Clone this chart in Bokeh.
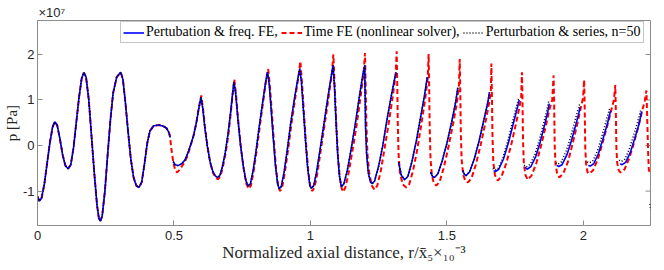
from bokeh.plotting import figure
from bokeh.models import Range1d, FixedTicker, Legend, LegendItem
from bokeh.embed import file_html
from bokeh.resources import INLINE

nan = float("nan")

# ---- data (pressure in units of 1e7 Pa) ----
# segment where all three solutions coincide
early_x = [0.000, 0.007, 0.015, 0.025, 0.035, 0.045, 0.055, 0.063, 0.072, 0.082, 0.092, 0.102,
           0.112, 0.122, 0.132, 0.142, 0.152, 0.162, 0.170, 0.178, 0.188, 0.198, 0.208, 0.218,
           0.225, 0.230, 0.237, 0.247, 0.257, 0.267, 0.277, 0.290, 0.305, 0.313, 0.322, 0.332,
           0.342, 0.352, 0.362, 0.372, 0.382, 0.392, 0.402, 0.412, 0.425, 0.443, 0.460, 0.473,
           0.482, 0.486]
early_p = [-1.12, -1.22, -1.15, -0.85, -0.40, 0.05, 0.40, 0.52, 0.45, 0.15, -0.20, -0.44,
           -0.51, -0.42, -0.05, 0.50, 1.05, 1.48, 1.60, 1.50, 1.00, 0.20, -0.60, -1.30,
           -1.60, -1.66, -1.55, -1.00, -0.20, 0.55, 1.15, 1.50, 1.61, 1.45, 0.95, 0.30,
           -0.30, -0.70, -0.88, -0.92, -0.80, -0.40, 0.05, 0.32, 0.43, 0.45, 0.43, 0.38,
           0.28, 0.18]

# perturbation & freq. FE / perturbation & series (coincident part)
mid_x = [nan,
         0.497, 0.504, 0.515, 0.528, 0.540, 0.552, 0.563, 0.573, 0.582, 0.590, 0.599, 0.606,
         0.613, 0.622, 0.632, 0.642, 0.652, 0.660, 0.668, 0.678, 0.688, 0.698, 0.708, 0.715,
         0.720, 0.726, 0.734, 0.744, 0.754, 0.764, 0.772, 0.780, 0.790, 0.800, 0.812, 0.825,
         0.836, 0.843, 0.849, 0.856, 0.864, 0.872, 0.880, 0.886, 0.893, 0.903, 0.915, 0.928,
         0.942, 0.955, 0.961, 0.967, 0.974, 0.982, 0.990, 0.998, 1.004, 1.012, 1.022, 1.035,
         1.050, 1.065, 1.077, 1.083, 1.088, 1.094, 1.100, 1.106, 1.113, 1.122, 1.135, 1.150,
         1.165, 1.180, 1.192, 1.199, 1.200, 1.202, 1.206, 1.212, 1.220, 1.226, 1.235, 1.250,
         1.265, 1.280, 1.295, 1.308, 1.314, nan,
         1.323, 1.333, 1.345, 1.357, 1.372, 1.388, 1.403, 1.418, 1.428, nan,
         1.440, 1.448, 1.455, 1.467, 1.482, 1.500, 1.517, 1.532, 1.540, nan,
         1.558, 1.564, 1.570, 1.583, 1.600, 1.618, 1.635, 1.650, 1.656]
mid_p = [nan,
         -0.35, -0.42, -0.44, -0.40, -0.32, -0.15, 0.05, 0.25, 0.50, 0.78, 1.06, 0.80,
         0.40, 0.00, -0.35, -0.56, -0.67, -0.70, -0.66, -0.45, -0.15, 0.25, 0.75, 1.15,
         1.40, 1.15, 0.60, 0.00, -0.45, -0.78, -0.89, -0.84, -0.55, -0.15, 0.40, 0.95,
         1.40, 1.61, 1.35, 0.80, 0.15, -0.45, -0.85, -0.95, -0.90, -0.60, -0.10, 0.50,
         1.05, 1.50, 1.69, 1.40, 0.80, 0.10, -0.50, -0.88, -0.94, -0.88, -0.60, -0.10,
         0.50, 1.10, 1.55, 1.76, 1.30, 0.50, -0.20, -0.65, -0.90, -0.85, -0.55, -0.05,
         0.50, 1.10, 1.55, 1.76, 1.20, 0.40, -0.20, -0.60, -0.80, -0.84, -0.78, -0.45,
         0.00, 0.55, 1.05, 1.45, 1.61, nan,
         -0.37, -0.65, -0.75, -0.68, -0.35, 0.10, 0.60, 1.10, 1.50, nan,
         -0.59, -0.68, -0.70, -0.62, -0.35, 0.05, 0.50, 0.95, 1.27, nan,
         -0.55, -0.63, -0.66, -0.58, -0.30, 0.10, 0.55, 0.95, 1.17]

blue_late_x = [nan, 1.671, 1.678, 1.690, 1.707, 1.725, 1.742, 1.757, 1.765,
               nan, 1.786, 1.795, 1.808, 1.825, 1.842, 1.858, 1.870, 1.875,
               nan, 1.903, 1.910, 1.922, 1.940, 1.957, 1.972, 1.983, 1.988,
               nan, 2.018, 2.025, 2.038, 2.055, 2.072, 2.088, 2.100,
               nan, 2.135, 2.142, 2.155, 2.172, 2.188, 2.203, 2.214]
blue_late_p = [nan, -0.55, -0.57, -0.52, -0.30, 0.05, 0.45, 0.80, 1.00,
               nan, -0.48, -0.52, -0.46, -0.25, 0.08, 0.45, 0.75, 0.92,
               nan, -0.44, -0.46, -0.42, -0.20, 0.12, 0.45, 0.70, 0.84,
               nan, -0.44, -0.45, -0.40, -0.18, 0.15, 0.48, 0.77,
               nan, -0.40, -0.42, -0.37, -0.15, 0.15, 0.45, 0.75]

black_late_x = [nan, 1.668, 1.676, 1.688, 1.705, 1.722, 1.739, 1.754, 1.763,
                nan, 1.783, 1.791, 1.805, 1.822, 1.839, 1.855, 1.867, 1.873,
                nan, 1.899, 1.907, 1.919, 1.936, 1.953, 1.968, 1.980, 1.986,
                nan, 2.014, 2.022, 2.035, 2.052, 2.068, 2.084, 2.097,
                nan, 2.131, 2.139, 2.152, 2.168, 2.184, 2.199, 2.211,
                nan, 2.244, 2.247]
black_late_p = [nan, -0.50, -0.54, -0.50, -0.27, 0.08, 0.48, 0.84, 1.04,
                nan, -0.43, -0.47, -0.41, -0.20, 0.13, 0.50, 0.80, 0.97,
                nan, -0.38, -0.41, -0.36, -0.14, 0.18, 0.52, 0.78, 0.90,
                nan, -0.36, -0.38, -0.33, -0.11, 0.21, 0.55, 0.83,
                nan, -0.32, -0.35, -0.30, -0.08, 0.22, 0.52, 0.80,
                nan, -1.28, -1.42]

# time FE (nonlinear solver), after the coincident segment
red_rest_x = [0.490, 0.497, 0.505, 0.512, 0.522, 0.535, 0.548, 0.560, 0.572, 0.582, 0.590, 0.600,
              0.607, 0.614, 0.623, 0.633, 0.643, 0.653, 0.661, 0.670, 0.680, 0.690, 0.700, 0.709,
              0.716, 0.721, 0.727, 0.735, 0.745, 0.755, 0.765, 0.774, 0.782, 0.792, 0.802, 0.814,
              0.827, 0.838, 0.845, 0.851, 0.858, 0.866, 0.874, 0.882, 0.889, 0.896, 0.906, 0.918,
              0.931, 0.945, 0.957, 0.963, 0.969, 0.976, 0.984, 0.992, 1.000, 1.007, 1.015, 1.025,
              1.038, 1.053, 1.068, 1.079, 1.084, 1.089, 1.095, 1.101, 1.108, 1.115, 1.120, 1.128,
              1.140, 1.155, 1.170, 1.184, 1.195, 1.200, 1.202, 1.205, 1.209, 1.216, 1.225, 1.235,
              1.245, 1.258, 1.272, 1.287, 1.301, 1.312, 1.316, 1.318, 1.320, 1.323, 1.328, 1.338,
              1.351, 1.362, 1.376, 1.391, 1.406, 1.420, 1.430, 1.433, 1.435, 1.437, 1.440, 1.445,
              1.452, 1.461, 1.473, 1.488, 1.505, 1.522, 1.537, 1.544, 1.547, 1.549, 1.551, 1.554,
              1.560, 1.568, 1.577, 1.590, 1.606, 1.624, 1.641, 1.656, 1.661, 1.663, 1.665, 1.667,
              1.670, 1.676, 1.686, 1.700, 1.717, 1.735, 1.752, 1.766, 1.772, 1.775, 1.777, 1.779,
              1.782, 1.788, 1.796, 1.810, 1.828, 1.846, 1.862, 1.876, 1.886, 1.891, 1.893, 1.895,
              1.898, 1.904, 1.912, 1.926, 1.944, 1.961, 1.977, 1.991, 1.999, 2.003, 2.005, 2.007,
              2.010, 2.015, 2.021, 2.035, 2.053, 2.070, 2.087, 2.102, 2.112, 2.117, 2.119, 2.121,
              2.124, 2.130, 2.137, 2.151, 2.168, 2.185, 2.201, 2.215, 2.225, 2.231, 2.234, 2.237,
              2.240, 2.246]
red_rest_p = [-0.05, -0.35, -0.55, -0.59, -0.52, -0.40, -0.25, -0.02, 0.22, 0.50, 0.80, 1.10,
              0.78, 0.38, -0.02, -0.38, -0.60, -0.71, -0.74, -0.68, -0.45, -0.14, 0.26, 0.76,
              1.18, 1.45, 1.15, 0.58, -0.02, -0.50, -0.84, -0.95, -0.88, -0.56, -0.15, 0.40,
              0.97, 1.45, 1.68, 1.35, 0.78, 0.12, -0.50, -0.90, -1.00, -0.93, -0.60, -0.10,
              0.50, 1.07, 1.55, 1.85, 1.40, 0.75, 0.05, -0.55, -0.93, -1.00, -0.92, -0.62,
              -0.10, 0.50, 1.12, 1.60, 2.00, 1.30, 0.45, -0.25, -0.72, -0.95, -1.02, -0.92,
              -0.60, -0.08, 0.48, 1.08, 1.60, 2.03, 1.40, 0.50, -0.20, -0.62, -0.88, -0.97,
              -0.88, -0.55, -0.05, 0.50, 1.05, 1.55, 2.07, 1.40, 0.50, -0.20, -0.60, -0.85,
              -0.92, -0.85, -0.55, -0.10, 0.45, 1.00, 1.50, 2.01, 1.30, 0.40, -0.30, -0.65,
              -0.82, -0.88, -0.80, -0.50, -0.05, 0.45, 0.95, 1.30, 1.90, 1.20, 0.30, -0.30,
              -0.65, -0.78, -0.81, -0.72, -0.42, 0.02, 0.50, 0.98, 1.20, 1.80, 1.10, 0.20,
              -0.35, -0.65, -0.77, -0.68, -0.40, 0.00, 0.45, 0.85, 1.05, 1.61, 1.00, 0.10,
              -0.40, -0.65, -0.75, -0.66, -0.38, 0.02, 0.42, 0.80, 1.00, 1.54, 0.90, 0.00,
              -0.40, -0.62, -0.70, -0.62, -0.35, 0.05, 0.45, 0.84, 1.05, 1.44, 0.80, -0.05,
              -0.40, -0.58, -0.62, -0.55, -0.30, 0.05, 0.42, 0.77, 1.00, 1.33, 0.75, -0.05,
              -0.38, -0.55, -0.59, -0.52, -0.28, 0.05, 0.40, 0.75, 0.98, 1.21, 0.60, -0.10,
              -0.55, -0.59]

blue_x = early_x + mid_x + blue_late_x
blue_p = early_p + mid_p + blue_late_p
black_x = early_x + mid_x + black_late_x
black_p = early_p + mid_p + black_late_p
red_x = early_x + red_rest_x
red_p = early_p + red_rest_p

x_ticks = [0, 0.5, 1, 1.5, 2]
x_tick_labels = ["0", "0.5", "1", "1.5", "2"]
y_ticks = [-1, 0, 1, 2]
y_tick_labels = ["-1", "0", "1", "2"]

series_names = ["Pertubation & freq. FE,", "Time FE (nonlinear solver),", "Perturbation & series, n=50"]
x_title = "Normalized axial distance, r/x\u0304\u2085\u00d7\u2081\u2080\u207b\u00b3"
y_title = "p [Pa]"
scale_note = "\u00d710\u2077"

# ---- figure ----
AX = "#8c8c8c"
X0, X1 = 0, 2.246
Y0, Y1 = -1.755, 2.745
p = figure(width=664, height=270, output_backend="svg", toolbar_location=None,
           x_range=Range1d(X0, X1), y_range=Range1d(Y0, Y1),
           min_border_left=36, min_border_right=14, min_border_top=20, min_border_bottom=45)
p.background_fill_color = "white"
p.border_fill_color = "white"
p.outline_line_color = AX
p.xgrid.visible = False
p.ygrid.visible = False

for ax, ticks, labels in ((p.xaxis[0], x_ticks, x_tick_labels), (p.yaxis[0], y_ticks, y_tick_labels)):
    ax.ticker = FixedTicker(ticks=ticks)
    ax.major_label_overrides = {t: l for t, l in zip(ticks, labels)}
    ax.major_tick_in = 5
    ax.major_tick_out = 0
    ax.minor_tick_in = 0
    ax.minor_tick_out = 0
    ax.axis_line_color = AX
    ax.major_tick_line_color = AX
    ax.major_label_text_font = "Liberation Sans"
    ax.major_label_text_font_size = "13px"
    ax.major_label_text_color = "#262626"
    ax.axis_label_text_font = "Liberation Serif"
    ax.axis_label_text_font_style = "normal"
    ax.axis_label_text_color = "#262626"

p.xaxis.major_label_standoff = 5
p.yaxis.major_label_standoff = 3
p.xaxis.axis_label = x_title
p.xaxis.axis_label_text_font_size = "17px"
p.xaxis.axis_label_standoff = 0
p.yaxis.axis_label = y_title
p.yaxis.axis_label_text_font_size = "15px"
p.yaxis.axis_label_standoff = 0

# tick marks on the top and right edges of the box (MATLAB "box on")
tl_x = 5 * (Y1 - Y0) / 205.0
tl_y = 5 * (X1 - X0) / 614.0
p.segment(x0=x_ticks, y0=[Y1] * len(x_ticks), x1=x_ticks, y1=[Y1 - tl_x] * len(x_ticks),
          line_color=AX, line_width=1)
p.segment(x0=[X1] * len(y_ticks), y0=y_ticks, x1=[X1 - tl_y] * len(y_ticks), y1=y_ticks,
          line_color=AX, line_width=1)

r_red = p.line(red_x, red_p, line_color="#ff0000", line_width=2, line_dash="5 3")
r_blue = p.line(blue_x, blue_p, line_color="#0000ff", line_width=1.6)
r_black = p.line(black_x, black_p, line_color="black", line_width=1.5, line_dash="1 2")

legend = Legend(items=[LegendItem(label=series_names[0], renderers=[r_blue]),
                       LegendItem(label=series_names[1], renderers=[r_red]),
                       LegendItem(label=series_names[2], renderers=[r_black])],
                location=(83, 182), orientation="horizontal",
                label_text_font="Liberation Serif", label_text_font_size="14px",
                label_text_color="black", border_line_color=AX, border_line_width=1,
                background_fill_color="white", background_fill_alpha=1.0,
                padding=2, spacing=3, margin=0, label_standoff=2,
                glyph_width=21, glyph_height=13, label_height=13)
p.add_layout(legend, "center")

p.title.text = scale_note
p.title.text_font = "Liberation Sans"
p.title.text_font_size = "13px"
p.title.text_font_style = "normal"
p.title.text_color = "#262626"
p.title.align = "left"
p.title.offset = 1
p.title.standoff = 2

open("out.html", "w").write(file_html(p, INLINE))
